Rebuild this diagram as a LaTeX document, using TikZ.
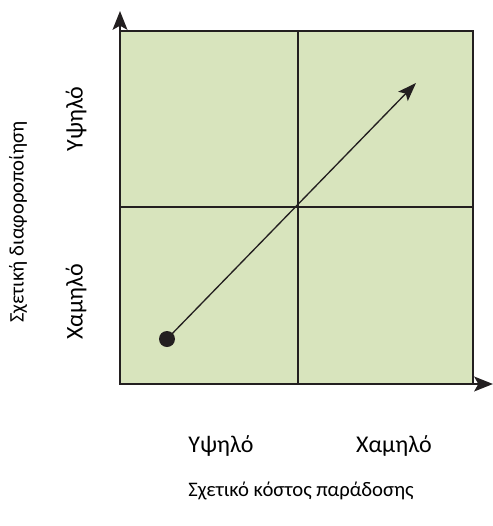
\documentclass[tikz,border=0pt]{standalone}
\usepackage{fontspec}
\setmainfont{Carlito}
\usetikzlibrary{arrows.meta}
\definecolor{boxgreen}{RGB}{216,228,189}
\definecolor{lineblack}{RGB}{35,31,32}
\tikzset{
  axislabel/.style={anchor=center,inner sep=0.75pt,font=\fontsize{18}{21}\selectfont},
  axistitle/.style={anchor=center,inner sep=0.75pt,font=\fontsize{15.5}{19}\selectfont},
  axisarrow/.style={-{Stealth[length=14pt,width=11pt,inset=3pt]},line width=2.2pt,color=lineblack},
}
\begin{document}
\begin{tikzpicture}[x=0.75pt,y=0.75pt,yscale=-1,xscale=1]
\useasboundingbox (0,0) rectangle (493,526);
%Shape: Square [id:quadrants]
\draw [color=lineblack,line width=1.6pt,fill=boxgreen] (120,31) rectangle (473,384);
%Straight Lines [id:divider-v]
\draw [color=lineblack,line width=1pt] (298,31) -- (298,384);
%Straight Lines [id:divider-h]
\draw [color=lineblack,line width=1pt] (120,207) -- (473,207);
%Axes
\coordinate (origin) at (120,384);
\coordinate (ytip) at (120,11);
\coordinate (xtip) at (493,384);
\draw [axisarrow] (origin) -- (ytip);
\draw [axisarrow] (origin) -- (xtip);
%Shape: Circle [id:start-dot]
\node (start) [circle,fill=lineblack,inner sep=0pt,minimum size=12pt] at (167,339) {};
\coordinate (goal) at (416,83);
%Straight Lines [id:trend]
\draw [color=lineblack,line width=1pt,-{Stealth[length=14pt,width=10pt,inset=3pt]}] (start.center) -- (goal);

% Text Node
\node (yhigh) [axislabel,rotate=90] at (76,119) {Υψηλό};
% Text Node
\node (ylow) [axislabel,rotate=90] at (76,302) {Χαμηλό};
% Text Node
\node (ytitle) [axistitle,rotate=90] at (18,222) {Σχετική διαφοροποίηση};
% Text Node
\node (xhigh) [axislabel] at (221,446) {Υψηλό};
% Text Node
\node (xlow) [axislabel] at (394,446) {Χαμηλό};
% Text Node
\node (xtitle) [axistitle] at (301,491) {Σχετικό κόστος παράδοσης};
\end{tikzpicture}
\end{document}
